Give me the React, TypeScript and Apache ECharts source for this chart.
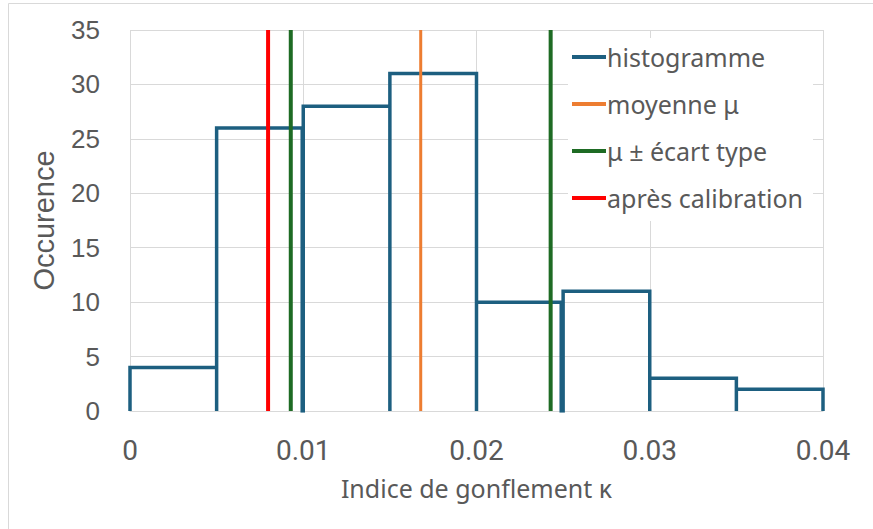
import React, { useEffect, useRef } from "react";
import * as echarts from "echarts";

// Histogram bins: [left edge, right edge, count]
const binLeft = [0, 0.005, 0.01, 0.015, 0.02, 0.025, 0.03, 0.035];
const binRight = [0.005, 0.00994, 0.015, 0.02, 0.02489, 0.03, 0.035, 0.04];
const binCount = [4, 26, 28, 31, 10, 11, 3, 2];

const meanValue = 0.01678;
const stdLow = 0.00928;
const stdHigh = 0.02428;
const calibrated = 0.00797;

const yTop = 35;
const xTicks = ["0", "0.01", "0.02", "0.03", "0.04"];

const names = ["histogramme", "moyenne μ", "μ ± écart type", "après calibration"];

function vline(x: number) {
  return [
    [x, 0],
    [x, yTop],
  ];
}

export default function App() {
  const ref = useRef<HTMLDivElement>(null);
  useEffect(() => {
    if (!ref.current) return;
    const chart = echarts.init(ref.current, undefined, { renderer: "svg" });
    const histo: number[][] = [];
    binLeft.forEach((l, i) => {
      histo.push([l, 0], [l, binCount[i]], [binRight[i], binCount[i]], [binRight[i], 0]);
    });
    const lineSeries = (name: string, data: number[][], color: string, width: number, z: number) => ({
      name,
      type: "line",
      data,
      symbol: "none",
      showSymbol: false,
      lineStyle: { color, width, cap: "butt", join: "miter" },
      itemStyle: { color },
      z,
    });
    chart.setOption({
      animation: false,
      graphic: [
        {
          type: "rect",
          shape: { x: 8.5, y: 3.5, width: 900, height: 600 },
          style: { fill: "none", stroke: "#d9d9d9", lineWidth: 1 },
          silent: true,
        },
      ],
      grid: { left: 130, right: 50, top: 30, bottom: 118, outerBoundsMode: "none", containLabel: false },
      legend: {
        orient: "vertical",
        left: 568,
        top: 38,
        data: names,
        icon: "rect",
        itemWidth: 34,
        itemHeight: 4,
        itemGap: 17,
        padding: [4, 10, 8, 4],
        backgroundColor: "#ffffff",
        textStyle: { fontFamily: "Noto Sans", fontSize: 25, color: "#595959", padding: [0, 0, 0, -4], lineHeight: 30 },
      },
      xAxis: {
        type: "value",
        min: 0,
        max: 0.04,
        interval: 0.01,
        name: "Indice de gonflement κ",
        nameLocation: "middle",
        nameGap: 64,
        nameTextStyle: { fontFamily: "Noto Sans", fontSize: 25, color: "#595959" },
        axisLine: { show: true, lineStyle: { color: "#d9d9d9", width: 1 } },
        axisTick: { show: false },
        axisLabel: {
          fontFamily: "Roboto",
          fontSize: 28,
          color: "#595959",
          margin: 25,
          formatter: (v: number) => xTicks[Math.round(v / 0.01)] ?? String(v),
        },
        splitLine: { show: true, lineStyle: { color: "#d9d9d9", width: 1 } },
      },
      yAxis: {
        type: "value",
        min: 0,
        max: yTop,
        interval: 5,
        name: "Occurence",
        nameLocation: "middle",
        nameGap: 72,
        nameTextStyle: { fontFamily: "Liberation Sans", fontSize: 29, color: "#595959" },
        axisLine: { show: false },
        axisTick: { show: false },
        axisLabel: { fontFamily: "Liberation Sans", fontSize: 26, color: "#595959", margin: 30 },
        splitLine: { show: true, lineStyle: { color: "#d9d9d9", width: 1 } },
      },
      series: [
        lineSeries(names[0], histo, "#1d5f80", 3.5, 2),
        lineSeries(names[1], vline(meanValue), "#ED7D31", 3, 3),
        lineSeries(names[2], vline(stdLow), "#1e6b24", 4, 3),
        lineSeries(names[2], vline(stdHigh), "#1e6b24", 4, 3),
        lineSeries(names[3], vline(calibrated), "#FF0000", 4, 3),
      ],
    });
    return () => chart.dispose();
  }, []);
  return (
    <div
      ref={ref}
      style={{ position: "absolute", left: 0, top: 0, width: 873, height: 529, background: "#fff" }}
    />
  );
}
